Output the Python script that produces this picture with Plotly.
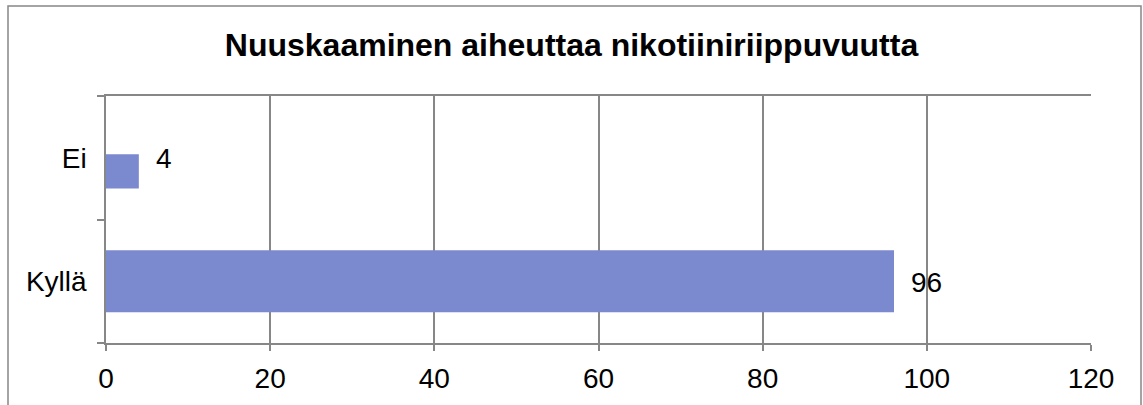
import plotly.graph_objects as go

categories = ["Kyllä", "Ei"]
values = [96, 4]
title_text = "Nuuskaaminen aiheuttaa nikotiiniriippuvuutta"
x_ticks = [0, 20, 40, 60, 80, 100, 120]

bar_widths = [0.504, 0.276]
bar_offsets = [-0.252, -0.248]

GRAY = "#878787"
FONT = "Liberation Sans, Arial, sans-serif"

fig = go.Figure()
fig.add_trace(go.Bar(
    y=categories, x=values, orientation="h",
    width=bar_widths, offset=bar_offsets,
    marker=dict(color="#7b89cf", line=dict(width=0)),
    hoverinfo="skip",
))

for c, v in zip(categories, values):
    fig.add_annotation(x=v, y=c, text=str(v), showarrow=False,
                       xanchor="left", xshift=15, yshift=-1,
                       font=dict(size=28, color="black", family=FONT))

fig.update_layout(
    width=1143, height=405,
    margin=dict(l=106, r=52, t=96, b=62, autoexpand=False),
    paper_bgcolor="white", plot_bgcolor="white",
    showlegend=False,
    font=dict(family=FONT, color="black", size=28),
    title=dict(text="<b>" + title_text + "</b>", x=0.5, xanchor="center",
               y=1 - 45 / 405, yanchor="middle", automargin=False,
               font=dict(size=32, family=FONT, color="black")),
    xaxis=dict(range=[0, 120], tickvals=x_ticks, ticktext=[str(t) for t in x_ticks],
               showgrid=True, gridcolor=GRAY, gridwidth=1.5,
               showline=True, linecolor=GRAY, linewidth=1.5, mirror=True,
               ticks="outside", ticklen=6, tickcolor=GRAY, tickwidth=1.5,
               zeroline=False, ticklabelstandoff=4, automargin=False,
               tickfont=dict(size=28, family=FONT)),
    yaxis=dict(categoryorder="array", categoryarray=categories,
               range=[-0.5, 1.5], tickson="boundaries",
               showgrid=False, showline=True, linecolor=GRAY, linewidth=1.5,
               ticks="outside", ticklen=7, tickcolor=GRAY, tickwidth=1.5,
               zeroline=False, ticklabelstandoff=12, automargin=False,
               tickfont=dict(size=28, family=FONT)),
    shapes=[dict(type="rect", xref="paper", yref="paper",
                 x0=(8 - 106) / 985, x1=(1141 - 106) / 985,
                 y0=(343 - 420) / 247, y1=(343 - 6) / 247,
                 line=dict(color=GRAY, width=1.5), fillcolor="rgba(0,0,0,0)",
                 layer="below")],
)

fig.write_html("out.html", config={"displayModeBar": False},
               post_script="document.body.style.margin='0';document.body.style.overflow='hidden';")
